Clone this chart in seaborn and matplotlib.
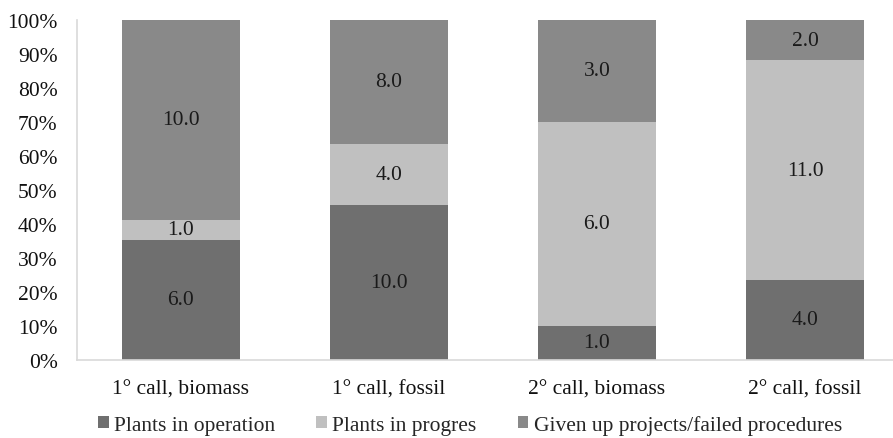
import matplotlib
matplotlib.use("Agg")
import matplotlib.pyplot as plt
import seaborn as sns
import pandas as pd
import numpy as np
from matplotlib.patches import Patch

categories = ["1° call, biomass", "1° call, fossil", "2° call, biomass", "2° call, fossil"]
series = ["Plants in operation", "Plants in progres", "Given up projects/failed procedures"]
operation = [6.0, 10.0, 1.0, 4.0]
progress = [1.0, 4.0, 6.0, 11.0]
given_up = [10.0, 8.0, 3.0, 2.0]
yticks = [0, 10, 20, 30, 40, 50, 60, 70, 80, 90, 100]
ytick_labels = [f"{v}%" for v in yticks]

colors = ["#6f6f6f", "#c0c0c0", "#898989"]

sns.set_theme(style="white")
plt.rcParams['font.family'] = ['Liberation Serif', 'DejaVu Serif']

vals = np.array([operation, progress, given_up])
tot = vals.sum(axis=0)
pct = vals / tot * 100

FS = 15.5

fig = plt.figure(figsize=(8.93, 4.39), dpi=100)
ax = fig.add_axes([77/893, 1 - 361/439, (909-77)/893, (361-21)/439])

bottom = np.zeros(len(categories))
for i, name in enumerate(series):
    df = pd.DataFrame({"cat": categories, "pct": pct[i]})
    bars = ax.bar(df["cat"], df["pct"], bottom=bottom, width=0.567, color=colors[i], label=name, linewidth=0)
    for j, b in enumerate(bars):
        yc = bottom[j] + pct[i][j] / 2
        ax.text(b.get_x() + b.get_width() / 2, yc, f"{vals[i][j]:.1f}", ha="center", va="center",
                fontsize=FS, color="#1a1a1a")
    bottom += pct[i]

ax.set_xlim(-0.5, 3.5)
ax.set_ylim(0, 100)
ax.set_yticks(yticks)
ax.set_yticklabels(ytick_labels, fontsize=FS, color="#111111")
ax.tick_params(axis="x", labelsize=FS, colors="#111111", length=0, pad=14)
ax.tick_params(axis="y", length=0, pad=14)
for s in ["top", "right"]:
    ax.spines[s].set_visible(False)
for s in ["left", "bottom"]:
    ax.spines[s].set_color("#d9d9d9")
    ax.spines[s].set_linewidth(1.2)
ax.set_xlabel("")
ax.set_ylabel("")

handles = [Patch(facecolor=c, edgecolor="none") for c in colors]
fig.legend(handles, series, loc="center", bbox_to_anchor=(470/893, 1 - 426/439), ncol=3, frameon=False,
           fontsize=FS, handlelength=0.5, handleheight=0.5, handletextpad=0.25, columnspacing=1.9,
           borderpad=0, borderaxespad=0)

fig.savefig("out.png", dpi=100)
